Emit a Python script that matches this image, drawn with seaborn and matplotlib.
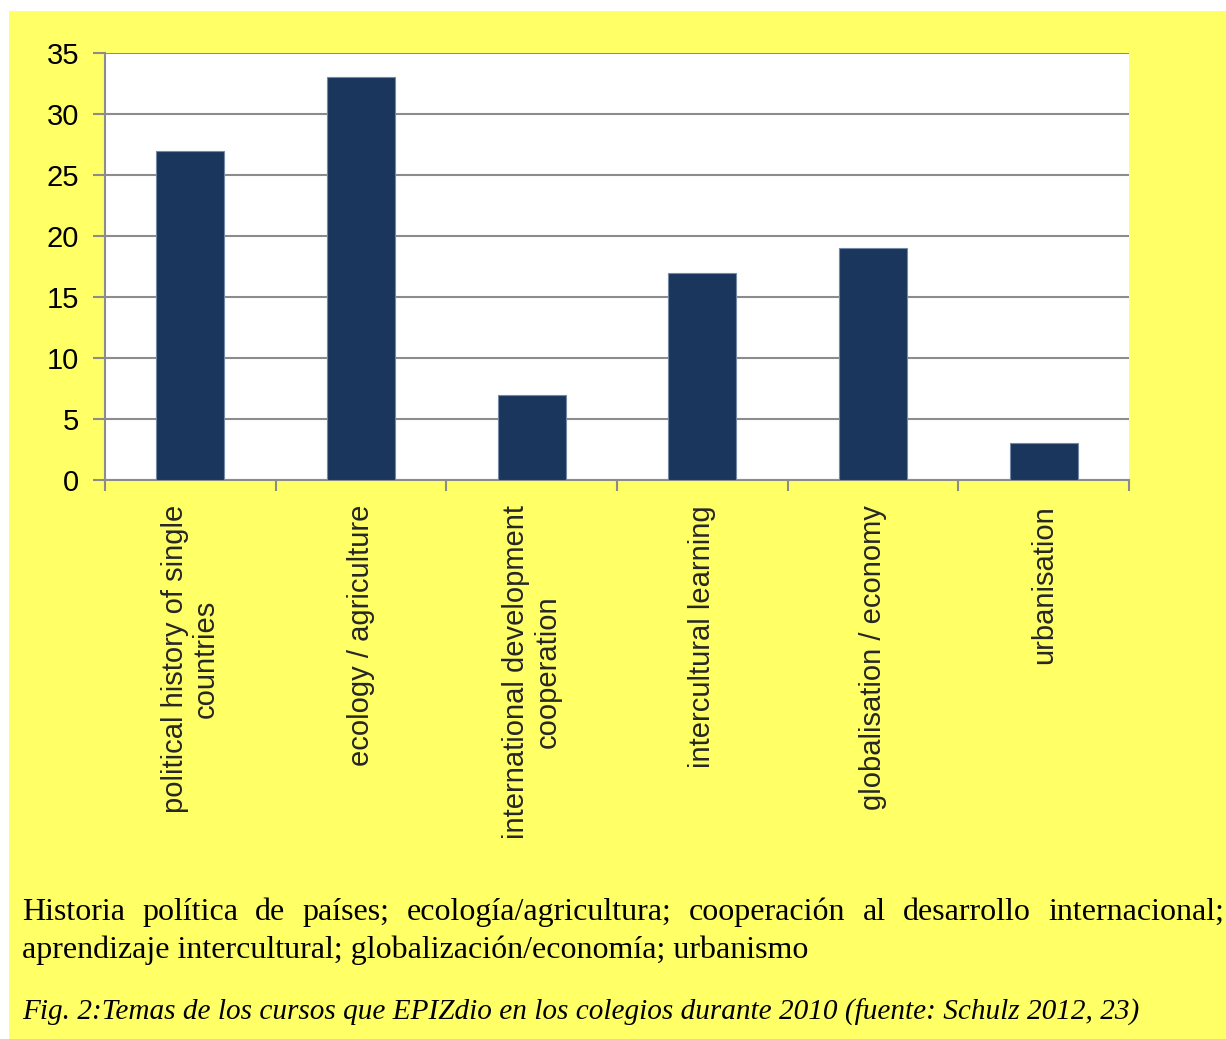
import matplotlib
matplotlib.use("Agg")
import matplotlib.pyplot as plt
from matplotlib.patches import Rectangle
from matplotlib.ticker import FixedLocator
import seaborn as sns
import pandas as pd

# Data
categories = [
    "political history of single\ncountries",
    "ecology / agriculture",
    "international development\ncooperation",
    "intercultural learning",
    "globalisation / economy",
    "urbanisation",
]
courses = [27, 33, 7, 17, 19, 3]
y_ticks = [0, 5, 10, 15, 20, 25, 30, 35]

body_line1 = "Historia política de países; ecología/agricultura; cooperación al desarrollo internacional;"
body_line2 = "aprendizaje intercultural; globalización/economía; urbanismo"
caption = "Fig. 2:Temas de los cursos que EPIZdio en los colegios durante 2010 (fuente: Schulz 2012, 23)"

YELLOW = "#FFFF66"
NAVY = "#1B365D"
GRID = "#8C8C8C"

sns.set_theme(style="white")
plt.rcParams["font.family"] = ["Liberation Sans", "DejaVu Sans"]

W, H = 1226, 1039
fig = plt.figure(figsize=(W / 100, H / 100), dpi=100, facecolor="white")

# yellow panel behind chart and text
fig.patches.append(Rectangle((9 / W, 0), 1 - 9 / W, 1 - 11 / H, transform=fig.transFigure,
                             facecolor=YELLOW, edgecolor="none", zorder=-10))

ax = fig.add_axes([105 / W, 1 - 480 / H, (1129 - 105) / W, (480 - 53) / H])
ax.set_facecolor("white")

df = pd.DataFrame({"topic": categories, "courses": courses})
sns.barplot(data=df, x="topic", y="courses", color=NAVY, width=0.4, saturation=1,
            edgecolor="#7489A6", linewidth=0.8, ax=ax, zorder=3)

ax.set_xlim(-0.5, len(categories) - 0.5)
ax.set_ylim(0, 35)
ax.set_xlabel("")
ax.set_ylabel("")

ax.yaxis.set_major_locator(FixedLocator(y_ticks))
ax.grid(axis="y", color=GRID, linewidth=1.5, zorder=0)
ax.set_axisbelow(True)

for side in ["top", "right"]:
    ax.spines[side].set_visible(False)
for side in ["left", "bottom"]:
    ax.spines[side].set_color(GRID)
    ax.spines[side].set_linewidth(1.5)

ax.tick_params(axis="y", which="major", direction="out", length=9, width=1.5, color=GRID,
               labelsize=21, labelcolor="black", pad=9.5, left=True)

# category labels at bar centres, tick marks between categories
ax.set_xticks(range(len(categories)))
ax.set_xticklabels(categories, rotation=90, ha="center", va="top",
                   multialignment="center", fontsize=21, linespacing=1.15)
ax.tick_params(axis="x", which="major", length=0, pad=18)
ax.set_xticks([i - 0.5 for i in range(len(categories) + 1)], minor=True)
ax.tick_params(axis="x", which="minor", direction="out", length=8, width=1.5, color=GRID,
               bottom=True)

# body text, justified across the page width
renderer = fig.canvas.get_renderer()
serif = dict(family=["Liberation Serif", "DejaVu Serif"], color="black")


def justified(words, y_px, x0, x1, size):
    texts = [fig.text(0, 1 - y_px / H, w, va="baseline", ha="left", fontsize=size, **serif)
             for w in words]
    widths = [t.get_window_extent(renderer).width for t in texts]
    gap = (x1 - x0 - sum(widths)) / (len(words) - 1)
    x = x0
    for t, w in zip(texts, widths):
        t.set_x(x / W)
        x += w + gap


justified(body_line1.split(" "), 920, 22, 1224, 23)
fig.text(22 / W, 1 - 958 / H, body_line2, va="baseline", ha="left", fontsize=23, **serif)
fig.text(22 / W, 1 - 1020 / H, caption, va="baseline", ha="left", style="italic",
         fontsize=21.1, **serif)

fig.savefig("out.png", dpi=100, facecolor="white")
